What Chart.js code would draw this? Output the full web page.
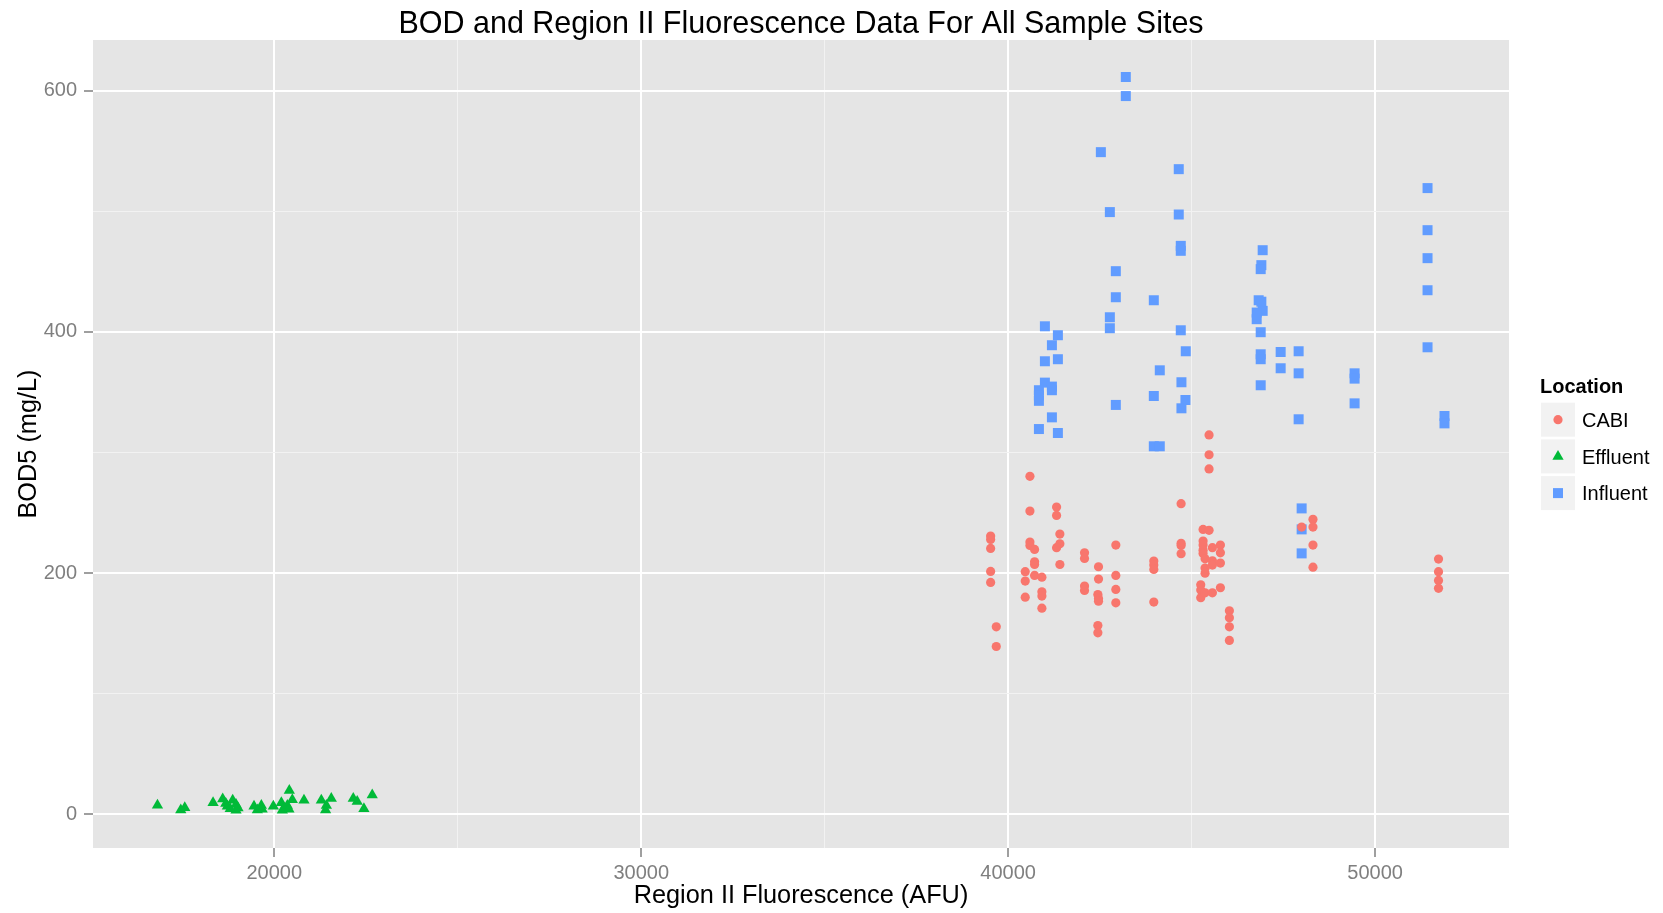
<!DOCTYPE html>
<html><head><meta charset="utf-8">
<script src="https://cdn.jsdelivr.net/npm/chart.js@4.4.1/dist/chart.umd.min.js"></script>
<style>html,body{margin:0;padding:0;background:#fff;}canvas{display:block;}</style>
</head><body>
<canvas id="c" width="1663" height="913"></canvas>
<script>
const seriesNames = ['CABI', 'Effluent', 'Influent'];
const seriesColors = ['#F8766D', '#00BA38', '#619CFF'];

const cabiX = [39523,39523,39523,39523,39523,39677,39677,
  40594,40594,40594,40594,40721,40721,40721,40721,40466,40466,40466,40920,40920,40920,40920,
  41320,41320,41410,41410,41320,41410,
  42082,42082,42082,42082,
  42463,42463,42445,42463,42463,42445,42445,
  42935,42935,42935,42935,
  43970,43970,43970,43970,
  44714,44714,44714,44714,
  45476,45476,45476,
  45313,45476,45313,45313,45313,45313,45567,45785,45785,45367,45567,45567,45785,45367,45367,45249,45249,45249,45367,45567,45785,
  46030,46030,46030,46030,
  48308,48308,48308,48308,47999,
  51729,51729,51729,51729];
const cabiY = [230.7,227.9,220.4,201.3,192.2,155.4,139.1,
  280.2,251.4,225.7,222.9,219.6,209.3,207.1,198.0,201.1,193.3,180.0,196.6,184.5,180.9,170.9,
  254.7,247.8,232.3,224.3,221.0,207.1,
  216.8,212.1,189.2,185.6,
  205.2,195.0,182.2,178.9,176.7,156.5,150.4,
  223.2,198.0,186.4,175.3,
  209.9,206.6,203.0,175.9,
  257.5,224.6,222.9,216.0,
  314.5,298.1,286.3,
  236.2,235.4,226.5,223.2,219.0,216.3,221.0,223.2,216.8,211.8,210.2,206.6,208.3,204.1,199.9,190.3,185.9,179.5,183.6,183.6,187.8,
  168.7,162.9,155.4,144.1,
  244.5,238.1,223.2,204.9,238.1,
  211.6,201.1,193.9,187.3];

const effluentX = [16817,17452,17561,18332,18595,18680,18867,18722,18958,19012,18958,18800,
  19448,19648,19539,19670,19975,20193,20410,20492,20356,20265,20220,20400,
  20810,21282,21554,21420,21399,22153,22260,22443,22670];
const effluentY = [7.4,3.5,5.3,9.6,12.7,9.0,11.6,6.6,8.0,5.2,3.3,4.5,
  6.6,7.2,3.5,4.2,6.6,9.6,19.6,12.1,7.2,4.5,3.3,4.2,
  11.6,11.6,13.0,7.2,3.5,13.0,10.5,4.5,16.0];

const influentX = [43207,43207,42527,44650,42772,44650,44705,44705,46937,46901,46883,42935,42935,43970,
  42772,42772,44705,46828,46937,46774,46774,46883,46883,46883,46883,46901,
  41002,41356,41193,41002,41356,41002,41193,41193,40839,40839,40839,41193,40839,41356,
  42935,43970,44832,44723,43970,44133,44133,44723,44841,
  51430,51430,51430,51430,51430,51892,51892,
  49442,49442,49442,47917,47917,47917,47427,47427,47999,47999,47999];
const influentY = [611.3,595.5,549.0,534.9,499.3,497.3,471.3,467.2,467.7,455.3,452.0,450.3,428.7,426.2,
  412.1,403.0,401.3,426.2,417.4,416.0,410.5,399.7,381.4,377.3,355.7,425.0,
  404.6,397.2,388.9,375.6,377.3,357.9,354.6,351.6,351.6,347.2,342.8,329.1,319.4,316.1,
  339.4,346.8,343.5,336.6,305.1,305.1,368.1,358.2,383.9,
  519.2,484.3,461.1,434.5,387.2,330.2,324.1,
  365.6,361.2,340.7,383.9,365.6,327.5,383.3,369.8,253.6,236.2,216.3];

const xMajorTicks = [20000, 30000, 40000, 50000];
const xMinorTicks = [25000, 35000, 45000];
const yMajorTicks = [0, 200, 400, 600];
const yMinorTicks = [100, 300, 500];

const FAMILY = '"Liberation Sans", Arial, Helvetica, sans-serif';
const toPoints = (xs, ys) => xs.map((x, i) => ({x: x, y: ys[i]}));

const panelBg = {
  id: 'panelBg',
  beforeDraw(chart) {
    const {ctx, chartArea: a} = chart;
    ctx.save();
    ctx.fillStyle = '#FFFFFF';
    ctx.fillRect(0, 0, chart.width, chart.height);
    ctx.fillStyle = '#E5E5E5';
    ctx.fillRect(a.left, a.top, a.right - a.left, a.bottom - a.top);
    ctx.restore();
  }
};

const ggLegend = {
  id: 'ggLegend',
  afterDraw(chart) {
    const ctx = chart.ctx;
    const a = chart.chartArea;
    const x0 = a.right + 32;
    const y0 = 402.7;
    ctx.save();
    ctx.textAlign = 'left';
    ctx.textBaseline = 'alphabetic';
    ctx.fillStyle = '#000';
    ctx.font = 'bold 20px ' + FAMILY;
    ctx.fillText('Location', x0 - 1, 392.5);
    chart.data.datasets.forEach((ds, i) => {
      const top = y0 + i * 36.7;
      ctx.fillStyle = '#F2F2F2';
      ctx.fillRect(x0, top, 34, 34);
      ctx.fillStyle = ds.backgroundColor;
      ctx.strokeStyle = ds.backgroundColor;
      Chart.helpers.drawPoint(ctx, {pointStyle: ds.pointStyle, radius: ds.pointRadius, rotation: 0, borderWidth: 0}, x0 + 17, top + 17);
      ctx.fillStyle = '#000';
      ctx.font = '20px ' + FAMILY;
      ctx.fillText(ds.label, x0 + 41, top + 17 + 7.3);
    });
    ctx.restore();
  }
};

const isIn = (arr, c) => !!(c && c.tick && arr.includes(c.tick.value));

new Chart(document.getElementById('c'), {
  type: 'scatter',
  data: {
    datasets: [
      {label: seriesNames[0], data: toPoints(cabiX, cabiY), pointStyle: 'circle', pointRadius: 4.6,
       backgroundColor: seriesColors[0], borderColor: seriesColors[0], borderWidth: 0, pointHoverRadius: 4.6},
      {label: seriesNames[1], data: toPoints(effluentX, effluentY), pointStyle: 'triangle', pointRadius: 6.5,
       backgroundColor: seriesColors[1], borderColor: seriesColors[1], borderWidth: 0, pointHoverRadius: 6.5},
      {label: seriesNames[2], data: toPoints(influentX, influentY), pointStyle: 'rect', pointRadius: 7.07,
       backgroundColor: seriesColors[2], borderColor: seriesColors[2], borderWidth: 0, pointHoverRadius: 7.07}
    ]
  },
  options: {
    responsive: false,
    animation: false,
    devicePixelRatio: 1,
    events: [],
    layout: {padding: {left: 0, right: 154, top: 0, bottom: 0}},
    plugins: {
      legend: {display: false},
      tooltip: {enabled: false},
      title: {
        display: true, fullSize: false,
        text: 'BOD and Region II Fluorescence Data For All Sample Sites',
        color: '#000',
        font: {family: FAMILY, size: 30.5, weight: 'normal', lineHeight: 1},
        padding: {top: 9.5, bottom: 0}
      }
    },
    scales: {
      x: {
        type: 'linear', position: 'bottom', min: 15060, max: 53650,
        afterBuildTicks: s => { s.ticks = xMajorTicks.concat(xMinorTicks).sort((p, q) => p - q).map(v => ({value: v})); },
        afterFit: s => { s.height = 65; },
        ticks: {autoSkip: false, maxRotation: 0, minRotation: 0, padding: 4, color: '#7F7F7F',
          font: {family: FAMILY, size: 20}, callback: v => xMajorTicks.includes(v) ? String(v) : ''},
        grid: {
          drawTicks: true, tickLength: 9,
          color: c => isIn(xMajorTicks, c) ? '#FFFFFF' : '#F2F2F2',
          lineWidth: c => isIn(xMajorTicks, c) ? 2 : 1,
          tickColor: c => isIn(xMajorTicks, c) ? '#7F7F7F' : 'rgba(0,0,0,0)',
          tickWidth: 1.5
        },
        border: {display: false},
        title: {display: true, text: 'Region II Fluorescence (AFU)', color: '#000',
          font: {family: FAMILY, size: 25.3, lineHeight: 1.2}, padding: {top: 0, bottom: 2}}
      },
      y: {
        type: 'linear', position: 'left', min: -28, max: 642,
        afterBuildTicks: s => { s.ticks = yMajorTicks.concat(yMinorTicks).sort((p, q) => p - q).map(v => ({value: v})); },
        afterFit: s => { s.width = 93; },
        ticks: {autoSkip: false, padding: 7, color: '#7F7F7F',
          font: {family: FAMILY, size: 20}, callback: v => yMajorTicks.includes(v) ? String(v) : ''},
        grid: {
          drawTicks: true, tickLength: 9,
          color: c => isIn(yMajorTicks, c) ? '#FFFFFF' : '#F2F2F2',
          lineWidth: c => isIn(yMajorTicks, c) ? 2 : 1,
          tickColor: c => isIn(yMajorTicks, c) ? '#7F7F7F' : 'rgba(0,0,0,0)',
          tickWidth: 1.5
        },
        border: {display: false},
        title: {display: true, text: 'BOD5 (mg/L)', color: '#000',
          font: {family: FAMILY, size: 25.3, lineHeight: 1.2}, padding: {top: 14, bottom: 0}}
      }
    }
  },
  plugins: [panelBg, ggLegend]
});
</script>
</body></html>
